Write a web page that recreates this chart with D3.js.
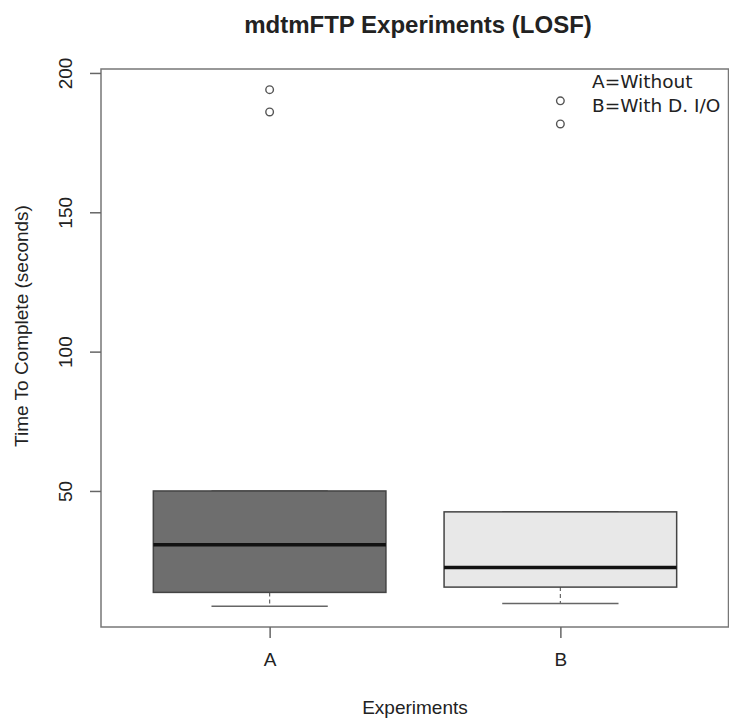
<!DOCTYPE html>
<html>
<head>
<meta charset="utf-8">
<script src="https://cdn.jsdelivr.net/npm/d3@7"></script>
<style>
  body { margin: 0; background: #fff; }
  text { font-family: "Liberation Sans", Arial, sans-serif; fill: #222; }
</style>
</head>
<body>
<div id="root"></div>
<script>
"use strict";

// Data
const categories = ["A", "B"];
const lowerWhisker = [8.6, 9.6];
const q1 = [13.6, 15.5];
const median = [30.7, 22.5];
const q3 = [50, 42.5];
const upperWhisker = [50, 42.5];
const outliers = [[186, 194], [181.7, 190]];
const yTicks = [50, 100, 150, 200];
const legendLines = ["A=Without", "B=With D. I/O"];
const fills = ["#6e6e6e", "#e8e8e8"];

const width = 729;
const height = 721;
const margin = { top: 69, right: 0, bottom: 94, left: 101 };
const drawWidth = width - margin.left - margin.right;
const drawHeight = height - margin.top - margin.bottom;

let svg = d3.select('#root')
    .append('svg')
    .attr('width', width)
    .attr('height', height);

let chartG = svg.append('g')
    .attr('transform', `translate(${margin.left},${margin.top})`);

// R style: 4% extension of the data range
let allVals = lowerWhisker.concat(upperWhisker, outliers.flat());
let yMin = d3.min(allVals), yMax = d3.max(allVals);
let pad = (yMax - yMin) * 0.04;

let yScale = d3.scaleLinear()
    .domain([yMin - pad, yMax + pad])
    .range([drawHeight, 0]);

let xScale = d3.scaleLinear()
    .domain([0.42, categories.length + 0.58])
    .range([0, drawWidth]);

const boxHalf = 0.4;
const capHalf = 0.2;

// Boxes
categories.forEach((c, i) => {
    let xc = xScale(i + 1);
    let g = chartG.append('g');
    // whiskers (dashed)
    g.append('line')
        .attr('x1', xc).attr('x2', xc)
        .attr('y1', yScale(q1[i])).attr('y2', yScale(lowerWhisker[i]))
        .attr('stroke', '#666').attr('stroke-width', 1.2)
        .attr('stroke-dasharray', '4,3');
    g.append('line')
        .attr('x1', xc).attr('x2', xc)
        .attr('y1', yScale(q3[i])).attr('y2', yScale(upperWhisker[i]))
        .attr('stroke', '#666').attr('stroke-width', 1.2)
        .attr('stroke-dasharray', '4,3');
    // caps
    [lowerWhisker[i], upperWhisker[i]].forEach(v => {
        g.append('line')
            .attr('x1', xScale(i + 1 - capHalf)).attr('x2', xScale(i + 1 + capHalf))
            .attr('y1', yScale(v)).attr('y2', yScale(v))
            .attr('stroke', '#666').attr('stroke-width', 1.5);
    });
    // box
    g.append('rect')
        .attr('x', xScale(i + 1 - boxHalf))
        .attr('width', xScale(i + 1 + boxHalf) - xScale(i + 1 - boxHalf))
        .attr('y', yScale(q3[i]))
        .attr('height', yScale(q1[i]) - yScale(q3[i]))
        .attr('fill', fills[i])
        .attr('stroke', '#444').attr('stroke-width', 1.5);
    // median
    g.append('line')
        .attr('x1', xScale(i + 1 - boxHalf)).attr('x2', xScale(i + 1 + boxHalf))
        .attr('y1', yScale(median[i])).attr('y2', yScale(median[i]))
        .attr('stroke', '#111').attr('stroke-width', 3.5);
    // outliers
    g.selectAll('circle').data(outliers[i]).enter().append('circle')
        .attr('cx', xc)
        .attr('cy', d => yScale(d))
        .attr('r', 3.8)
        .attr('fill', 'none')
        .attr('stroke', '#555').attr('stroke-width', 1.4);
});

// Frame
chartG.append('rect')
    .attr('x', 0).attr('y', 0)
    .attr('width', drawWidth - 0.5).attr('height', drawHeight)
    .attr('fill', 'none')
    .attr('stroke', '#777').attr('stroke-width', 1.5);

// Y axis
let yAxis = d3.axisLeft(yScale).tickValues(yTicks).tickSize(11).tickPadding(0).tickFormat(d3.format('d'));
let yAxisG = chartG.append('g').call(yAxis);
yAxisG.select('.domain').remove();
yAxisG.selectAll('.tick line').attr('stroke', '#666').attr('stroke-width', 1.5);
yAxisG.selectAll('.tick text')
    .attr('transform', 'translate(-36,0) rotate(-90)')
    .attr('x', 0).attr('dy', '0.35em')
    .attr('text-anchor', 'middle')
    .style('font-size', '19px')
    .style('font-family', '"Liberation Sans", Arial, sans-serif')
    .style('fill', '#222');

// X axis
let xAxis = d3.axisBottom(xScale).tickValues(categories.map((c, i) => i + 1))
    .tickFormat((d, i) => categories[i]).tickSize(11).tickPadding(15);
let xAxisG = chartG.append('g')
    .attr('transform', `translate(0,${drawHeight})`)
    .call(xAxis);
xAxisG.select('.domain').remove();
xAxisG.selectAll('.tick line').attr('stroke', '#666').attr('stroke-width', 1.5);
xAxisG.selectAll('.tick text')
    .style('font-size', '19px')
    .style('font-family', '"Liberation Sans", Arial, sans-serif')
    .style('fill', '#222');

// Title
svg.append('text')
    .attr('x', 418).attr('y', 33)
    .attr('text-anchor', 'middle')
    .style('font-weight', 'bold')
    .style('font-size', '24px')
    .text("mdtmFTP Experiments (LOSF)");

// Axis labels
svg.append('text')
    .attr('x', 415).attr('y', 714)
    .attr('text-anchor', 'middle')
    .style('font-size', '19px')
    .text("Experiments");

svg.append('text')
    .attr('transform', 'translate(28,326) rotate(-90)')
    .attr('text-anchor', 'middle')
    .style('font-size', '19px')
    .text("Time To Complete (seconds)");

// Legend text (no box)
svg.selectAll('.legend').data(legendLines).enter().append('text')
    .attr('class', 'legend')
    .attr('x', 592)
    .attr('y', (d, i) => 88 + i * 24)
    .style('font-family', '"DejaVu Sans", sans-serif')
    .style('font-size', '18.5px')
    .text(d => d);
</script>
</body>
</html>
